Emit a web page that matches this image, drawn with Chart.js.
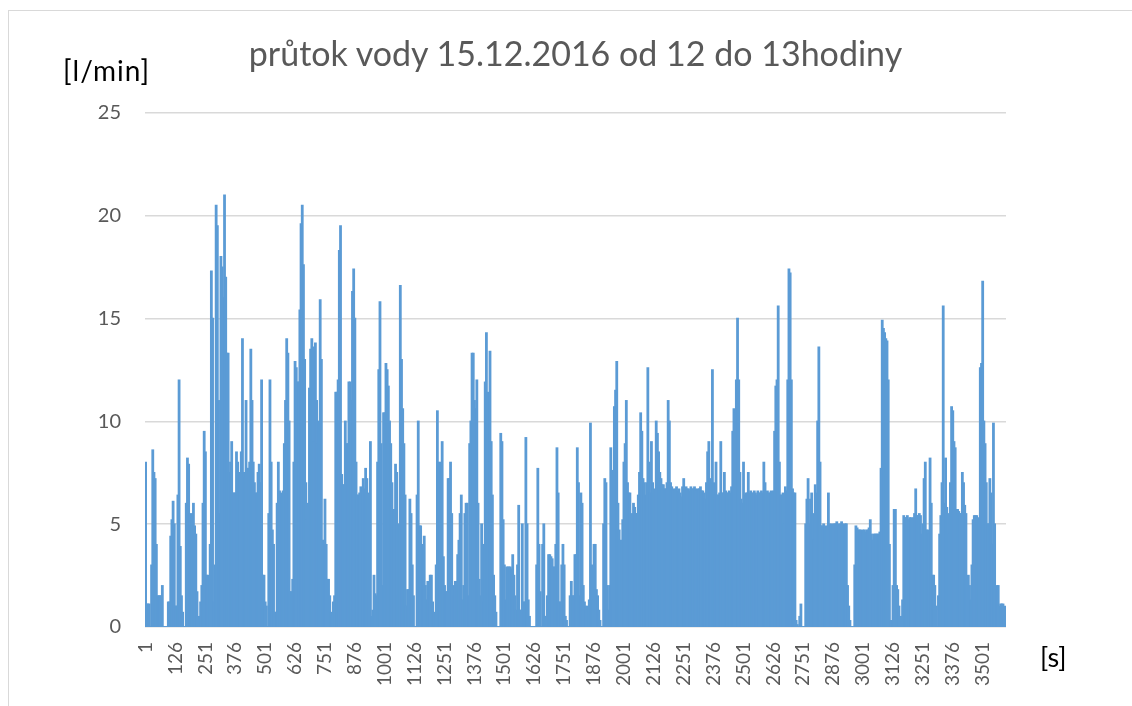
<!DOCTYPE html>
<html>
<head>
<meta charset="utf-8">
<script src="https://cdn.jsdelivr.net/npm/chart.js@4.4.1/dist/chart.umd.min.js"></script>
<style>
  body { margin: 0; background: #fff; }
  #wrap { position: relative; width: 1132px; height: 706px; overflow: hidden; }
  #frame { position: absolute; left: 8px; top: 10px; width: 1140px; height: 720px; border: 1px solid #d9d9d9; }
  #title { position: absolute; left: 145px; width: 861px; top: 32px; text-align: center;
           font-family: Lato, sans-serif; font-size: 34px; color: #595959; }
  #yunit { position: absolute; left: 63px; top: 53px; font-family: Lato, sans-serif; font-size: 28px;
           letter-spacing: 1px; color: #000; }
  #xunit { position: absolute; left: 1040px; top: 640px; font-family: Lato, sans-serif; font-size: 27px; color: #000; }
  canvas { position: absolute; left: 0; top: 0; }
</style>
</head>
<body>
<div id="wrap">
  <div id="frame"></div>
  <canvas id="myChart" width="1132" height="706"></canvas>
  <div id="title">průtok vody 15.12.2016 od 12 do 13hodiny</div>
  <div id="yunit">[l/min]</div>
  <div id="xunit">[s]</div>
</div>
<script>
// flow in l/min, one value per 5 s
var flow = [
  8, 1.1, 1.1, 1.1, 0, 3, 8.6, 7.5, 7.2, 4,
  1.5, 1.5, 1.5, 1.5, 2, 0, 0, 0, 0, 1.2,
  1.2, 4.4, 5.2, 6.1, 5, 1, 1, 6.4, 12, 3.9,
  1.5, 0.7, 0, 0, 6, 8.2, 7.9, 5.5, 4.9, 5.5,
  6, 4.9, 4.5, 1.7, 0, 0.5, 1.2, 2, 6, 9.5,
  8.5, 2.5, 2.5, 0, 4, 17.3, 15, 1.2, 3, 20.5,
  19.5, 11, 5.5, 18, 17.5, 16, 21, 17, 13.3, 13.3,
  7.5, 8, 9, 6.5, 6.5, 6.5, 8.5, 8, 7.5, 7.5,
  8.5, 14, 7.5, 7.3, 11, 7.7, 7.7, 8, 13.5, 11,
  8, 7, 6.5, 6.5, 7.5, 7.9, 7, 12, 2.5, 2.5,
  1.2, 1, 0, 5.5, 12, 8, 4.7, 4, 0.7, 0.7,
  6, 8, 6.6, 6.5, 6.3, 6.6, 8.9, 11, 14, 13.3,
  10, 1.7, 1.7, 2.3, 8, 12.9, 12.6, 11.9, 11.9, 15.4,
  19.6, 20.5, 17.6, 13, 7, 5.2, 6, 11.6, 13.5, 14,
  13.6, 9, 13.8, 11, 8.9, 10, 15.9, 13, 4.2, 4.2,
  6.2, 4, 2.3, 2.3, 1.5, 0.7, 0.5, 1.2, 1.5, 11.4,
  11.4, 12, 18.3, 19.5, 7.4, 6.9, 6.9, 10, 8.9, 8.9,
  11.9, 11.9, 11, 16.3, 17.4, 15, 8, 6.4, 6.4, 6.5,
  6.8, 6.6, 7.2, 6.7, 7.7, 7.2, 6.5, 1.7, 9, 0.5,
  0.8, 2.5, 1.6, 1.5, 8, 12.5, 15.8, 8.9, 2, 10.4,
  10.4, 12.8, 12.5, 11.7, 10, 8.9, 7, 5.7, 5.7, 7.9,
  7.5, 1.5, 5, 16.6, 13, 10.6, 8.9, 6.4, 1, 1.8,
  1.8, 6.2, 5.5, 3, 1.5, 0, 0, 6.4, 10, 4.9,
  4.9, 3.2, 4, 4.4, 2, 1.3, 2.2, 1.5, 2.5, 2.5,
  1.2, 0.7, 0, 3, 10.5, 8, 5.4, 8, 9, 3.4,
  2, 1.7, 1.7, 7.2, 7.2, 8, 5.5, 2, 1.5, 2.2,
  2.2, 3.5, 4.2, 5.5, 6.4, 1.3, 2, 5.5, 6, 6,
  1.5, 8.9, 10, 13.3, 13.3, 11, 10.6, 12, 6, 2.3,
  1.5, 5, 4, 1.2, 11.9, 14.3, 11.4, 8, 13.4, 9,
  6.4, 2.5, 1.5, 0.7, 0, 0, 0, 9.4, 9, 5.2,
  3, 1.3, 2.9, 2.9, 2.9, 2.9, 2.8, 3.5, 2.5, 1.5,
  0.8, 3, 5.9, 0.8, 0.8, 5, 1.2, 1.2, 9.2, 5,
  1.3, 0.5, 0, 0, 0, 0, 0, 3, 7.7, 4,
  1.7, 0, 4, 5, 0.5, 0.5, 1.5, 3.5, 3.5, 3.4,
  3.3, 2.9, 2.9, 4, 8.7, 6.5, 1.2, 1.2, 3, 4,
  3, 0.5, 0.3, 0, 0, 1.5, 2.2, 1.5, 1.5, 3.5,
  3.5, 8.7, 7, 1.5, 6.5, 6, 2, 1.2, 1, 0.8,
  1, 1.3, 9.9, 3, 1.3, 4, 4, 1.8, 1.5, 0.8,
  0.3, 0, 0, 5, 7.2, 7, 2, 0.8, 2, 8.7,
  7.6, 1.2, 10.7, 11.5, 12.9, 6, 4.7, 4.2, 4.2, 5.2,
  8, 8.9, 11, 7, 6.5, 6.5, 4.5, 5.5, 6, 5.8,
  5.5, 5.5, 6.4, 7.5, 10.4, 9.5, 7.2, 7, 6.4, 7,
  12.6, 8, 6.5, 9, 7, 6.5, 6.7, 10, 9.4, 8.5,
  7.5, 7.2, 6.9, 6.9, 6.7, 6.7, 7, 11, 10, 7,
  6.8, 6.7, 6.6, 6.7, 6.8, 6.6, 6.7, 6.5, 6.3, 6.8,
  7.2, 6.7, 6.8, 6.7, 6.7, 6.6, 6.8, 6.7, 6.7, 6.8,
  6.7, 6.6, 6.7, 6.7, 6.8, 6.6, 6.6, 6.5, 6.2, 7,
  8.5, 9, 7.2, 7, 12.5, 7, 6.4, 8, 6.4, 6.4,
  6.5, 9, 6.5, 6.5, 7.5, 6.6, 6.5, 6.5, 6.6, 6.5,
  6.8, 9.5, 10.6, 10.4, 12, 15, 12, 7.5, 6.2, 6,
  8, 6.4, 6.5, 6.5, 7.5, 6.5, 6.6, 6.5, 6.5, 6.6,
  6.5, 6.4, 6.6, 6.5, 6.5, 6.6, 6.5, 8, 7, 6.5,
  6.6, 6.5, 6.5, 6.6, 6.5, 6.6, 9.5, 11.7, 12, 15.6,
  8, 6.4, 6.4, 6.5, 5, 6.8, 6.6, 12, 17.4, 17.2,
  12, 6.7, 6.5, 6.5, 0.3, 0.1, 0, 0.5, 1.1, 0,
  0, 0, 5, 6.2, 7.2, 5, 6.2, 6.5, 5.5, 4.2,
  6.9, 6.5, 10, 13.6, 8, 4.9, 4.9, 5, 4.9, 4.8,
  4.9, 6.5, 5, 4.9, 5, 4.9, 5, 5, 5.1, 5,
  4.9, 5, 5.1, 5, 4.9, 5, 5, 2, 1, 0.3,
  0, 0, 0, 3, 4.9, 4.8, 4.7, 4.7, 4.7, 4.6,
  4.7, 4.7, 4.6, 4.7, 4.7, 4.8, 5.2, 4.5, 4.2, 4.5,
  4.5, 4.5, 4.5, 4.5, 4.6, 7.7, 14.9, 14.5, 14.3, 14,
  13.9, 12, 4, 0.3, 0, 2, 5.7, 5.7, 2, 1.8,
  1, 0, 0.5, 1.3, 5.4, 5.3, 5.3, 5.4, 5.2, 5.3,
  5.3, 5.2, 5.3, 5.5, 6.7, 5.4, 5.4, 5.5, 5.4, 4.5,
  5, 7.2, 8, 4.7, 4.7, 4.5, 8.2, 6, 2.5, 2.5,
  2, 1, 0, 1.5, 4.5, 5.4, 7, 15.6, 6, 8.2,
  5.8, 5.5, 4.5, 7, 10.7, 10.5, 9, 8.7, 5.7, 5.7,
  5.6, 5.5, 5.5, 7.5, 7, 5.9, 5.5, 2.3, 2.5, 2,
  1.3, 3, 5.2, 5.4, 5.4, 5.4, 5.3, 5.2, 12.6, 12.8,
  16.8, 10, 8.9, 7, 5, 5, 7.2, 6.5, 4, 9.9,
  5, 1.3, 2, 2, 1, 1.1, 1.1, 1.1, 0.5, 1
];
var tickLabels = ['1', '126', '251', '376', '501', '626', '751', '876', '1001', '1126',
  '1251', '1376', '1501', '1626', '1751', '1876', '2001', '2126', '2251', '2376',
  '2501', '2626', '2751', '2876', '3001', '3126', '3251', '3376', '3501'];
var yTicks = [0, 5, 10, 15, 20, 25];

// second of each 5 s sample
var seconds = [];
for (let i = 0; i < flow.length; i++) {
    seconds.push(1 + 5 * i);
}

var ctx = document.getElementById('myChart');
var chart = new Chart(ctx, {
    type: 'bar',
    data: {
        labels: seconds,
        datasets: [{
            label: 'průtok',
            data: flow,
            backgroundColor: '#5b9bd5',
            borderWidth: 0,
            inflateAmount: 0.8,
            barPercentage: 1,
            categoryPercentage: 1
        }]
    },
    options: {
        responsive: false,
        animation: false,
        layout: { padding: { top: 113, right: 126, left: 0, bottom: 0 } },
        plugins: { legend: { display: false }, tooltip: { enabled: false } },
        scales: {
            x: {
                grid: { display: false, drawTicks: false },
                border: { display: false },
                afterFit: function (scale) { scale.height = 79; },
                ticks: {
                    autoSkip: false,
                    minRotation: 90,
                    maxRotation: 90,
                    padding: 15,
                    color: '#595959',
                    font: { family: 'Lato', size: 19 },
                    callback: function (val, index) {
                        return index % 25 == 0 ? tickLabels[index / 25] : '';
                    }
                }
            },
            y: {
                min: 0,
                max: 25,
                afterFit: function (scale) { scale.width = 145; },
                afterBuildTicks: function (scale) {
                    scale.ticks = yTicks.map(v => ({ value: v }));
                },
                grid: { color: '#d9d9d9', lineWidth: 1.5, drawTicks: false },
                border: { display: false },
                ticks: {
                    padding: 24,
                    color: '#595959',
                    font: { family: 'Lato', size: 20 }
                }
            }
        }
    }
});
</script>
</body>
</html>
